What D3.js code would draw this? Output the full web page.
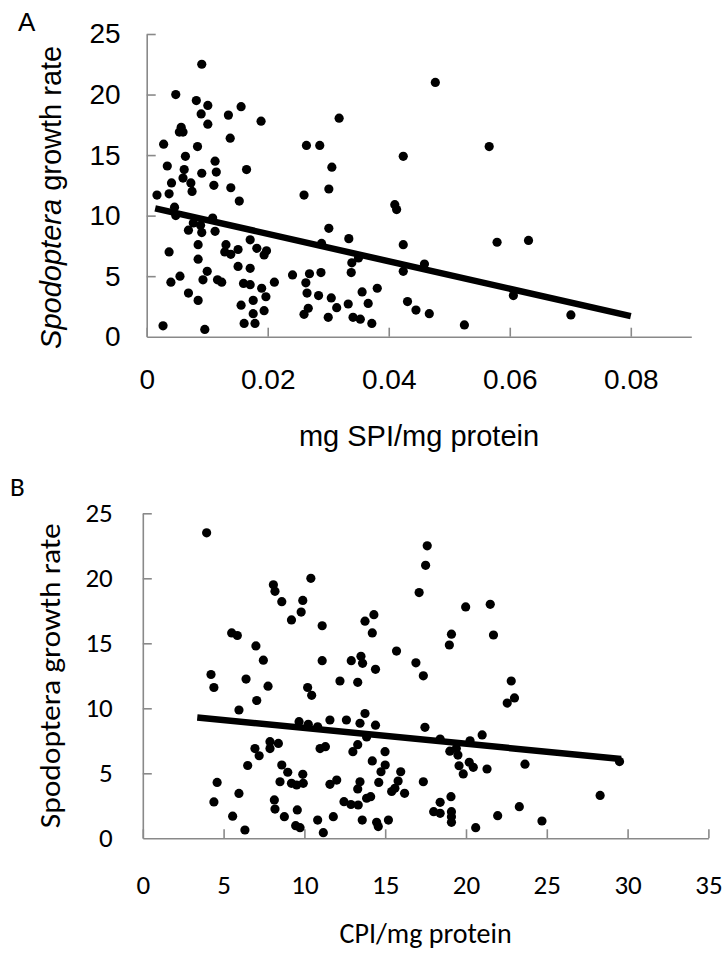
<!DOCTYPE html>
<html><head><meta charset="utf-8">
<script src="https://cdn.jsdelivr.net/npm/d3@7"></script>
<style>
html,body{margin:0;padding:0;background:#fff;}
svg{display:block;}
</style></head>
<body>
<svg id="chart" width="725" height="955"></svg>
<script>
// ---------- Panel A data: mg SPI/mg protein vs growth rate ----------
const pointsA = [
[0.0091,22.5],[0.0048,20.0],[0.0082,19.5],[0.0101,19.1],[0.0090,18.4],[0.0135,18.3],[0.0156,19.0],[0.0189,17.8],
[0.0057,17.3],[0.0054,16.9],[0.0060,16.9],[0.0101,17.55],[0.0138,16.4],[0.0028,15.9],[0.0084,15.7],[0.0064,14.9],
[0.0113,14.5],[0.0034,14.1],[0.0062,13.8],[0.0091,13.5],[0.0115,13.6],[0.0165,13.8],[0.0060,13.1],[0.0041,12.7],
[0.0073,12.7],[0.0111,12.5],[0.0139,12.3],[0.0075,12.0],[0.0017,11.7],[0.0037,11.8],[0.0153,11.2],[0.0046,10.7],
[0.0048,10.0],[0.0077,9.4],[0.0089,9.2],[0.0069,8.8],[0.0091,8.6],[0.0109,9.8],[0.0113,8.7],[0.0171,8.0],
[0.0037,7.0],[0.0085,7.6],[0.0131,7.6],[0.0129,7.0],[0.0139,6.8],[0.0151,7.2],[0.0085,6.4],[0.0182,7.3],
[0.0151,5.8],[0.0171,5.65],[0.0100,5.4],[0.0055,5.0],[0.0040,4.5],[0.0093,4.7],[0.0117,4.7],[0.0124,4.5],
[0.0160,4.4],[0.0171,4.3],[0.0069,3.6],[0.0085,3.0],[0.0156,2.6],[0.0176,3.0],[0.0176,1.9],[0.0161,1.1],
[0.0179,1.1],[0.0027,0.9],[0.0096,0.6],
[0.0318,18.05],[0.0264,15.8],[0.0286,15.8],[0.0306,14.0],[0.0301,12.2],[0.0260,11.7],[0.0424,14.9],[0.0410,10.9],
[0.0413,10.5],[0.0301,8.95],[0.0334,8.1],[0.0289,7.7],[0.0198,7.1],[0.0194,6.75],[0.0424,7.6],[0.0339,6.1],
[0.0350,6.5],[0.0424,5.4],[0.0241,5.1],[0.0269,5.2],[0.0288,5.3],[0.0338,5.3],[0.0211,4.5],[0.0263,4.45],
[0.0190,4.0],[0.0197,3.3],[0.0265,3.6],[0.0284,3.4],[0.0305,3.2],[0.0356,3.7],[0.0381,4.0],[0.0366,2.75],
[0.0333,2.7],[0.0194,2.15],[0.0267,2.35],[0.0260,1.85],[0.0314,2.4],[0.0300,1.6],[0.0341,1.6],[0.0353,1.45],
[0.0372,1.1],
[0.0477,21.0],[0.0566,15.7],[0.0579,7.8],[0.0631,7.95],[0.0459,6.0],[0.0431,2.9],[0.0445,2.2],[0.0467,1.9],
[0.0525,0.97],[0.0606,3.4],[0.0701,1.8]
];
const trendA = [[0.0014,10.6],[0.08,1.7]];
const xTicksA = [0, 0.02, 0.04, 0.06, 0.08];
const xTickLabelsA = ["0", "0.02", "0.04", "0.06", "0.08"];
const yTicks = [0, 5, 10, 15, 20, 25];

// ---------- Panel B data: CPI/mg protein vs growth rate ----------
const pointsB = [
[3.95,23.5],[5.5,15.8],[5.85,15.6],[7.0,14.8],[7.46,13.7],[4.22,12.6],[6.39,12.25],[4.4,11.6],[7.75,11.7],
[7.05,10.6],[5.95,9.87],[6.94,6.9],[7.2,6.35],[6.49,5.6],[4.6,4.3],[5.95,3.45],[4.4,2.8],[5.56,1.7],[6.32,0.64],
[8.08,19.5],[8.18,19.0],[10.4,20.0],[8.6,18.2],[9.9,18.3],[9.8,17.4],[9.2,16.8],[11.1,16.35],[13.75,16.7],
[14.3,17.2],[14.2,15.8],[15.7,14.4],[11.1,13.66],[12.9,13.66],[13.5,14.0],[13.6,13.46],[14.4,13.0],[10.2,11.6],
[12.2,12.1],[13.3,12.0],
[10.45,11.0],[9.67,8.97],[10.24,8.77],[10.82,8.58],[11.58,9.1],[12.6,9.1],[13.44,8.85],[13.75,9.6],[14.4,8.7],
[13.85,7.8],[7.87,7.43],[8.39,7.3],[7.87,6.9],[10.97,6.9],[11.3,7.05],[13.3,7.2],[13.0,6.66],[14.99,6.66],
[14.2,5.95],[15.0,5.64],[14.74,5.12],[8.6,5.64],[8.97,5.08],[9.9,4.92],[8.49,4.35],[9.2,4.23],[9.93,4.23],
[9.52,4.1],[11.58,4.15],[12.0,4.48],[13.44,4.35],[13.3,3.8],[14.6,4.3],[15.4,3.6],[12.45,2.82],[12.88,2.6],
[13.33,2.56],[13.85,3.08],[14.1,3.2],[8.14,2.95],[8.18,2.25],[9.56,2.18],[8.76,1.66],[11.79,1.66],[10.82,1.4],
[13.58,1.4],[14.47,1.23],[14.57,0.9],[15.2,1.4],[9.46,0.97],[9.73,0.82],[11.17,0.43],
[17.6,22.5],[17.5,21.0],[17.1,18.9],[19.98,17.8],[21.5,18.0],[19.1,15.7],[18.97,14.87],[21.7,15.64],[16.9,13.5],
[17.36,12.5],[22.8,12.1],[23.0,10.8],[22.55,10.4],[17.46,8.54],[18.4,7.64],[20.25,7.5],[21.0,7.95],[19.0,6.7],
[19.4,6.9],[19.5,6.4],[20.2,5.85],[20.45,5.46],[19.57,5.58],[19.83,4.95],[21.3,5.33],[23.65,5.7],[15.96,5.12],
[15.8,4.4],[15.6,3.85],[16.2,3.46],[17.36,4.35],[19.07,3.2],[18.4,2.77],[18.0,2.05],[18.4,1.92],[19.1,2.05],
[19.1,1.66],[19.1,1.23],[23.3,2.43],[21.96,1.74],[24.7,1.33],[20.6,0.82],[28.3,3.3],[29.5,5.9]
];
const trendB = [[3.37,9.3],[29.6,6.1]];
const xTicksB = [0, 5, 10, 15, 20, 25, 30, 35];

const svg = d3.select("#chart");
const AXIS = "#898989";

function panel(cfg) {
  const g = svg.append("g");
  const x = d3.scaleLinear().domain(cfg.xDomain).range(cfg.xRange);
  const y = d3.scaleLinear().domain([0, 25]).range(cfg.yRange);

  const xa = g.append("g").attr("transform", `translate(0,${cfg.yRange[0]})`)
    .call(d3.axisBottom(x).tickValues(cfg.xTicks).tickFormat((d,i)=>cfg.xLabels[i])
      .tickSizeInner(-9).tickSizeOuter(0).tickPadding(cfg.xPad));
  const ya = g.append("g").attr("transform", `translate(${cfg.xRange[0]},0)`)
    .call(d3.axisLeft(y).tickValues(yTicks).tickSizeInner(-9).tickSizeOuter(0).tickPadding(cfg.yPad));
  [xa, ya].forEach(a => {
    a.select(".domain").attr("stroke", AXIS).attr("stroke-width", 1.6);
    a.selectAll(".tick line").attr("stroke", AXIS).attr("stroke-width", 1.6);
    a.selectAll("text").attr("fill", "#000").style("font-family", cfg.font).style("font-size", cfg.tickSize + "px");
  });
  ya.selectAll(".tick").filter(d => d === 0).select("line").remove();

  g.append("g").selectAll("circle").data(cfg.points).join("circle")
    .attr("cx", d => x(d[0])).attr("cy", d => y(d[1])).attr("r", 4.6).attr("fill", "#000");

  g.append("path").datum(cfg.trend)
    .attr("d", d3.line().x(d => x(d[0])).y(d => y(d[1])))
    .attr("stroke", "#000").attr("stroke-width", 6.5).attr("fill", "none");

  g.append("text").attr("x", cfg.letterX).attr("y", cfg.letterY).text(cfg.letter)
    .style("font-family", cfg.font).style("font-size", cfg.letterSize + "px").attr("fill", "#000");

  g.append("text").attr("x", (cfg.xRange[0] + cfg.xRange[1]) / 2).attr("y", cfg.xTitleY)
    .attr("text-anchor", "middle").text(cfg.xTitle)
    .style("font-family", cfg.font).style("font-size", cfg.titleSize + "px").attr("fill", "#000");

  const yt = g.append("text")
    .attr("transform", `translate(${cfg.yTitleX},${(cfg.yRange[0] + cfg.yRange[1]) / 2 + cfg.yTitleShift}) rotate(-90)`)
    .attr("text-anchor", "middle")
    .style("font-family", cfg.font).style("font-size", cfg.titleSize + "px").attr("fill", "#000");
  if (cfg.yTitleLen) yt.attr("textLength", cfg.yTitleLen).attr("lengthAdjust", "spacingAndGlyphs");
  yt.append("tspan").style("font-style", cfg.italic ? "italic" : "normal").text("Spodoptera");
  yt.append("tspan").text(" growth rate");
}

panel({
  xDomain: [0, 0.09], xRange: [146.7, 691.3], yRange: [336.7, 34],
  xTicks: xTicksA, xLabels: xTickLabelsA, points: pointsA, trend: trendA,
  font: "'Liberation Sans', Arial, sans-serif", tickSize: 28, titleSize: 29, letterSize: 26,
  xPad: 32, yPad: 26, letter: "A", letterX: 18, letterY: 31,
  xTitle: "mg SPI/mg protein", xTitleY: 446, yTitleX: 61, yTitleShift: 12, italic: true
});

panel({
  xDomain: [0, 35], xRange: [142.8, 708.4], yRange: [838.3, 513.3],
  xTicks: xTicksB, xLabels: xTicksB.map(String), points: pointsB, trend: trendB,
  font: "Carlito, Calibri, Lato, sans-serif", tickSize: 27, titleSize: 28, letterSize: 27,
  xPad: 37, yPad: 30, letter: "B", letterX: 10, letterY: 496,
  xTitle: "CPI/mg protein", xTitleY: 943, yTitleX: 60, yTitleShift: 0, italic: false, yTitleLen: 305
});
</script>
</body></html>
